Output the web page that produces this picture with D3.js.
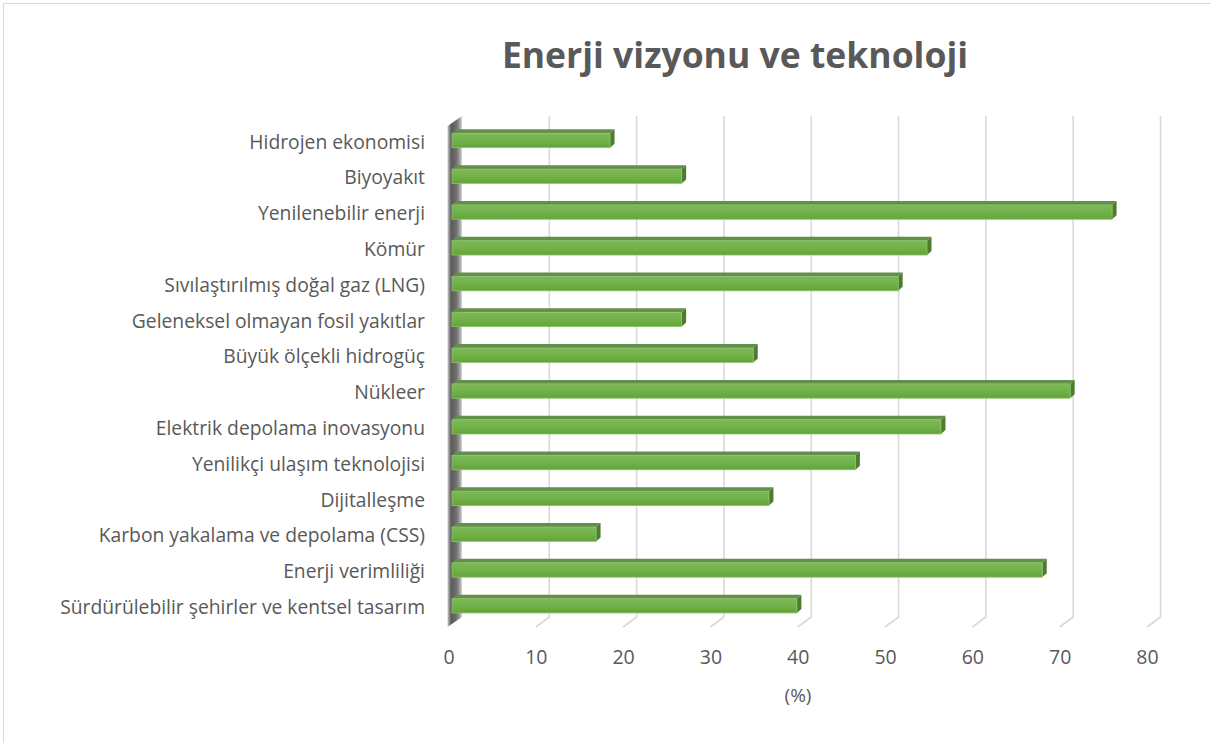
<!DOCTYPE html>
<html>
<head>
<meta charset="utf-8">
<script src="https://cdn.jsdelivr.net/npm/d3@7"></script>
<style>
  body { margin: 0; background: #fff; }
  svg { display: block; }
  text { font-family: "Open Sans", sans-serif; fill: #595959; }
</style>
</head>
<body>
<div id="chart"></div>
<script>
// Enerji vizyonu ve teknoloji - 3D style horizontal bars
const categories = [
    "Hidrojen ekonomisi",
    "Biyoyakıt",
    "Yenilenebilir enerji",
    "Kömür",
    "Sıvılaştırılmış doğal gaz (LNG)",
    "Geleneksel olmayan fosil yakıtlar",
    "Büyük ölçekli hidrogüç",
    "Nükleer",
    "Elektrik depolama inovasyonu",
    "Yenilikçi ulaşım teknolojisi",
    "Dijitalleşme",
    "Karbon yakalama ve depolama (CSS)",
    "Enerji verimliliği",
    "Sürdürülebilir şehirler ve kentsel tasarım"
];
const values = [18.1, 26.3, 75.6, 54.4, 51.1, 26.3, 34.5, 70.8, 56.0, 46.2, 36.3, 16.5, 67.6, 39.5];
const tickValues = [0, 10, 20, 30, 40, 50, 60, 70, 80];
const title = "Enerji vizyonu ve teknoloji";
const axisTitle = "(%)";

const W = 1211, H = 743;

// 3D offsets: back wall is shifted right/up relative to the front floor edge
const depth = { dx: 13.5, dy: -10 };
const barDepth = { dx: 4.5, dy: -4 };

const svg = d3.select("#chart").append("svg")
    .attr("width", W)
    .attr("height", H);

const defs = svg.append("defs");

const faceGrad = defs.append("linearGradient")
    .attr("id", "barFace")
    .attr("x1", 0).attr("y1", 0).attr("x2", 0).attr("y2", 1);
faceGrad.append("stop").attr("offset", "0%").attr("stop-color", "#7cb858");
faceGrad.append("stop").attr("offset", "50%").attr("stop-color", "#72b24a");
faceGrad.append("stop").attr("offset", "100%").attr("stop-color", "#62a337");

const wallGrad = defs.append("linearGradient")
    .attr("id", "wall")
    .attr("x1", 0).attr("y1", 0).attr("x2", 1).attr("y2", 0);
wallGrad.append("stop").attr("offset", "0%").attr("stop-color", "#c8c8c8");
wallGrad.append("stop").attr("offset", "25%").attr("stop-color", "#5a5a5a");
wallGrad.append("stop").attr("offset", "60%").attr("stop-color", "#6e6e6e");
wallGrad.append("stop").attr("offset", "85%").attr("stop-color", "#a0a0a0");
wallGrad.append("stop").attr("offset", "100%").attr("stop-color", "#dcdcdc");

// chart border
svg.append("rect")
    .attr("x", 3.5).attr("y", 3.5)
    .attr("width", W + 10).attr("height", H + 10)
    .attr("fill", "none")
    .attr("stroke", "#d9d9d9")
    .attr("stroke-width", 1);

// scales
const xFront = d3.scaleLinear().domain([0, 80]).range([448.5, 1147]);
const xBar = d3.scaleLinear().domain([0, 80]).range([452, 1150.5]);
const floorY = 627;
const topY = 116;

const y = d3.scaleBand()
    .domain(categories)
    .range([122.6, 623.7])
    .paddingInner(0.6)
    .paddingOuter(0.3);

// title
svg.append("text")
    .attr("x", 735)
    .attr("y", 68)
    .attr("text-anchor", "middle")
    .style("font-size", "35.5px")
    .style("font-weight", "bold")
    .text(title);

// gridlines on back wall with floor diagonals
const grid = svg.append("g").attr("class", "grid");
tickValues.filter(d => d > 0).forEach(t => {
    const xb = xFront(t) + depth.dx;
    const xf = xFront(t);
    grid.append("path")
        .attr("d", `M${xb},${topY} L${xb},${floorY + depth.dy} L${xf},${floorY}`)
        .attr("fill", "none")
        .attr("stroke", "#d9d9d9")
        .attr("stroke-width", 1.6);
});

// left wall
const x0 = xFront(0);
svg.append("path")
    .attr("d", `M${x0 - 1},${topY + 10} L${x0 + depth.dx},${topY} L${x0 + depth.dx},${floorY + depth.dy} L${x0 - 1},${floorY} Z`)
    .attr("fill", "url(#wall)");

// bars
const bars = svg.append("g").attr("class", "bars");
categories.forEach((cat, i) => {
    const v = values[i];
    const x1 = xBar(0);
    const x2 = xBar(v);
    const y1 = y(cat);
    const h = y.bandwidth();
    const g = bars.append("g");

    // top face
    g.append("path")
        .attr("d", `M${x1},${y1} L${x1 + barDepth.dx},${y1 + barDepth.dy} L${x2 + barDepth.dx},${y1 + barDepth.dy} L${x2},${y1} Z`)
        .attr("fill", "#628f49");

    // right cap
    g.append("path")
        .attr("d", `M${x2},${y1} L${x2 + barDepth.dx},${y1 + barDepth.dy} L${x2 + barDepth.dx},${y1 + h + barDepth.dy} L${x2},${y1 + h} Z`)
        .attr("fill", "#4d7c2f");

    // front face
    g.append("rect")
        .attr("x", x1)
        .attr("y", y1)
        .attr("width", x2 - x1)
        .attr("height", h)
        .attr("fill", "url(#barFace)")
        .attr("stroke", "#8fc46e")
        .attr("stroke-width", 0.8);
});

// category labels
svg.append("g")
    .selectAll("text")
    .data(categories)
    .enter().append("text")
    .attr("x", 425)
    .attr("y", d => y(d) + y.bandwidth() / 2 + 3)
    .attr("text-anchor", "end")
    .attr("dominant-baseline", "middle")
    .style("font-size", "19.3px")
    .text(d => d);

// value axis labels
const axis = svg.append("g")
    .attr("transform", `translate(0,${floorY + 23})`)
    .call(d3.axisBottom(xFront).tickValues(tickValues).tickSize(0).tickPadding(0));
axis.select(".domain").remove();
axis.selectAll("text")
    .attr("dy", "0.71em")
    .style("font-family", "\"Open Sans\", sans-serif")
    .style("font-size", "19.5px")
    .attr("fill", "#595959");

svg.append("text")
    .attr("x", 798)
    .attr("y", 697)
    .attr("text-anchor", "middle")
    .attr("dominant-baseline", "middle")
    .style("font-size", "19px")
    .text(axisTitle);
</script>
</body>
</html>
